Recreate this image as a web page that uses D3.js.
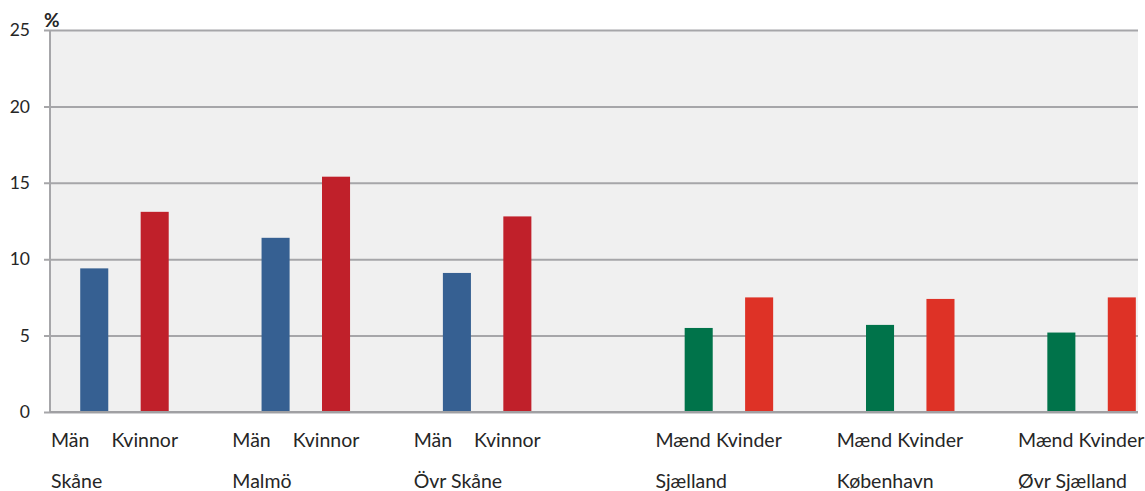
<!DOCTYPE html>
<html>
<head>
<meta charset="utf-8">
<script src="https://cdnjs.cloudflare.com/ajax/libs/d3/7.8.5/d3.min.js"></script>
<style>
  body { margin: 0; background: #fff; }
  text { font-family: Lato, "Open Sans", sans-serif; fill: #262626; }
</style>
</head>
<body>
<div id="chart"></div>
<script>
// slots along the x axis, empty strings are the gaps between groups
var barLabels = ["Män", "Kvinnor", "", "Män", "Kvinnor", "", "Män", "Kvinnor", "", "",
                 "Mænd", "Kvinder", "", "Mænd", "Kvinder", "", "Mænd", "Kvinder"];
var regionLabels = ["Skåne", "", "", "Malmö", "", "", "Övr Skåne", "", "", "",
                    "Sjælland", "", "", "København", "", "", "Øvr Sjælland", ""];
var barValues = [9.4, 13.1, null, 11.4, 15.4, null, 9.1, 12.8, null, null,
                 5.5, 7.5, null, 5.7, 7.4, null, 5.2, 7.5];
var barColors = ["#366092", "#c0202a", null, "#366092", "#c0202a", null, "#366092", "#c0202a", null, null,
                 "#00734a", "#de3226", null, "#00734a", "#de3226", null, "#00734a", "#de3226"];
var yTicks = [0, 5, 10, 15, 20, 25];

var margin = {top: 30, right: 7, bottom: 79, left: 50},
    width = 1145 - margin.left - margin.right,
    height = 491 - margin.top - margin.bottom;

var x = d3.scaleBand().domain(d3.range(barLabels.length)).range([0, width]);
var y = d3.scaleLinear().domain([0, 25]).range([height, 0]);

var svg = d3.select("#chart")
    .append("svg")
        .attr("width", 1145)
        .attr("height", 491)
    .append("g")
        .attr("transform", "translate(" + margin.left + "," + margin.top + ")");

// plot background
svg.append("rect")
    .attr("width", width)
    .attr("height", height)
    .attr("fill", "#f0f0f0");

// gridlines + y axis
var yAxis = svg.append("g")
    .call(d3.axisLeft(y).tickValues(yTicks).tickSize(-width).tickPadding(20));
yAxis.select(".domain").remove();
yAxis.selectAll(".tick line")
    .attr("x1", -6)
    .attr("stroke", "#a6a6a9")
    .attr("stroke-width", 2);
yAxis.selectAll(".tick text")
    .style("font-family", "Lato, 'Open Sans', sans-serif")
    .style("font-size", "17.5px")
    .attr("fill", "#262626");

svg.append("line")
    .attr("x1", 0).attr("x2", 0)
    .attr("y1", 0).attr("y2", height)
    .attr("stroke", "#a6a6a9")
    .attr("stroke-width", 2);

// bars
var bw = x.bandwidth();
svg.selectAll(".bar")
    .data(barValues.map(function(v, i) { return {v: v, i: i}; }).filter(function(d) { return d.v !== null; }))
  .enter().append("rect")
    .attr("class", "bar")
    .attr("x", function(d) { return x(d.i) + bw * 0.5; })
    .attr("width", bw * 0.464)
    .attr("y", function(d) { return y(d.v); })
    .attr("height", function(d) { return height - y(d.v); })
    .attr("fill", function(d) { return barColors[d.i]; });

// bottom axis line
svg.append("line")
    .attr("x1", 0).attr("x2", width)
    .attr("y1", height).attr("y2", height)
    .attr("stroke", "#a0a0a3")
    .attr("stroke-width", 2);

// category labels
svg.selectAll(".lab")
    .data(barLabels)
  .enter().append("text")
    .attr("x", function(d, i) { return x(i) + 1; })
    .attr("y", height + 35)
    .style("font-size", "19.5px")
    .text(function(d) { return d; });

svg.selectAll(".reg")
    .data(regionLabels)
  .enter().append("text")
    .attr("x", function(d, i) { return x(i) + 1; })
    .attr("y", height + 76)
    .style("font-size", "19.5px")
    .text(function(d) { return d; });

// unit
svg.append("text")
    .attr("x", -6)
    .attr("y", -3)
    .style("font-size", "19px")
    .style("font-weight", "bold")
    .text("%");
</script>
</body>
</html>
